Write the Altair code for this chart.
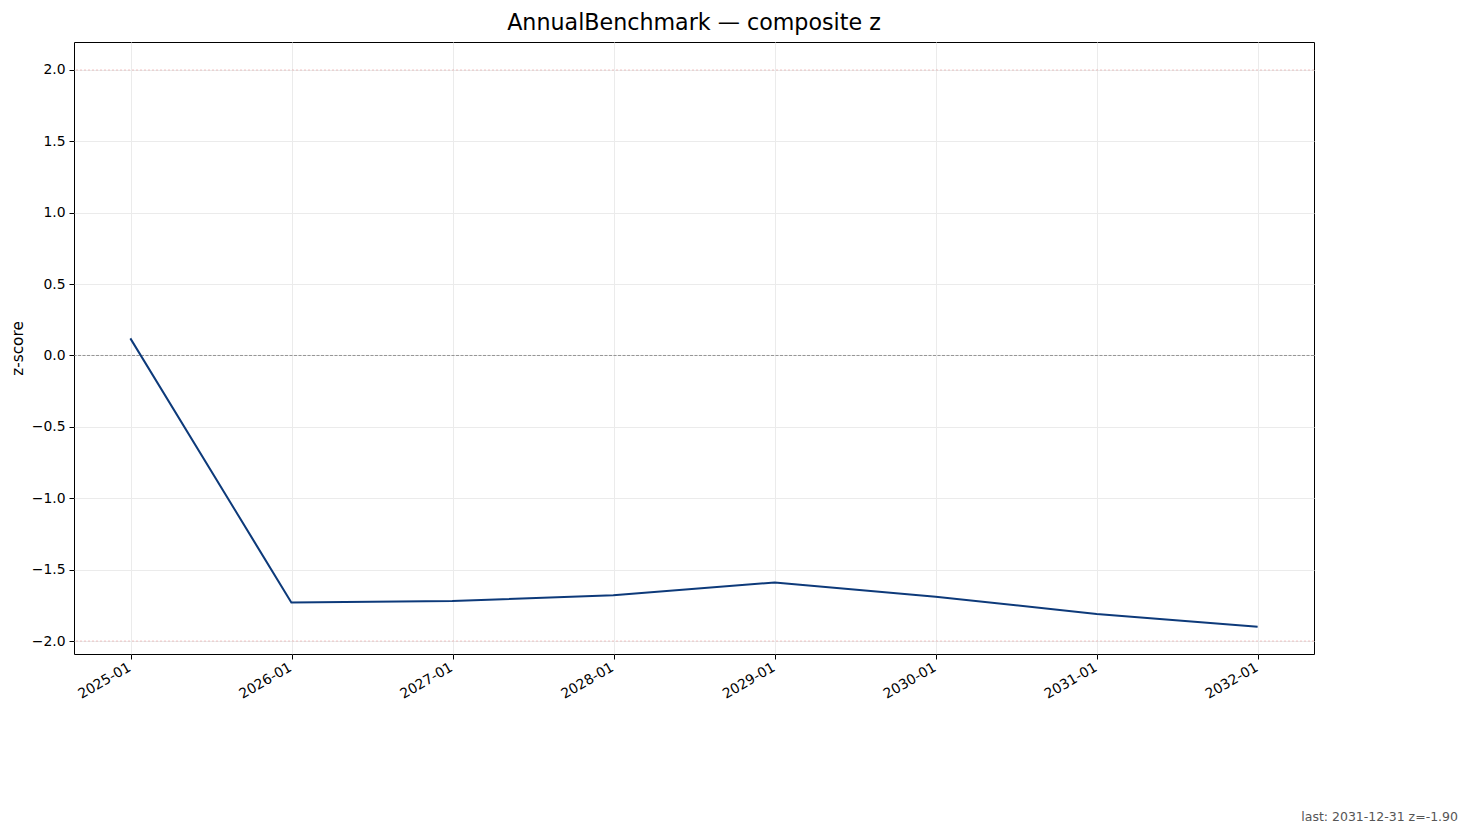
import altair as alt
import pandas as pd

dates = ["2024-12-31", "2025-12-31", "2026-12-31", "2027-12-31",
         "2028-12-31", "2029-12-31", "2030-12-31", "2031-12-31"]
zvals = [0.12, -1.73, -1.72, -1.68, -1.59, -1.69, -1.81, -1.90]
tick_dates = ["2025-01-01", "2026-01-01", "2027-01-01", "2028-01-01",
              "2029-01-01", "2030-01-01", "2031-01-01", "2032-01-01"]
y_ticks = [-2.0, -1.5, -1.0, -0.5, 0.0, 0.5, 1.0, 1.5, 2.0]
ref_levels = [2.0, -2.0]
footer = "last: 2031-12-31 z=-1.90"
title = "AnnualBenchmark \u2014 composite z"

df = pd.DataFrame({"date": pd.to_datetime(dates), "z": zvals})
start = pd.Timestamp(dates[0])
end = pd.Timestamp(dates[-1])
pad = (end - start) * 0.05
xdom = [(start - pad).isoformat(), (end + pad).isoformat()]
ydom = [-2.091, 2.196]

FONT = "DejaVu Sans"
W, H = 1240, 612

xscale = alt.Scale(domain=xdom, nice=False)
yscale = alt.Scale(domain=ydom, nice=False, zero=False)

tick_vals = [alt.DateTime(year=int(d[:4]), month=1, date=1) for d in tick_dates]

line = alt.Chart(df).mark_line(color="#0d3a7a", strokeWidth=2, clip=True).encode(
    x=alt.X("date:T", scale=xscale,
            axis=alt.Axis(values=tick_vals, format="%Y-%m", title=None,
                          labelAngle=330, labelAlign="right", labelBaseline="top",
                          labelFontSize=13.9, labelFont=FONT, labelColor="black",
                          tickColor="black", tickSize=5, tickWidth=1,
                          labelPadding=1, labelOffset=-5, domain=False,
                          grid=True, gridColor="#ebebeb", gridWidth=1)),
    y=alt.Y("z:Q", scale=yscale,
            axis=alt.Axis(values=y_ticks,
                          labelExpr="replace(format(datum.value, '.1f'), '-', '\u2212')",
                          title="z-score",
                          titleFont=FONT, titleFontSize=15.3, titleFontWeight="normal",
                          titleColor="black", titlePadding=6,
                          labelFontSize=13.9, labelFont=FONT, labelColor="black",
                          tickColor="black", tickSize=5, tickWidth=1,
                          labelPadding=4, domain=False,
                          grid=True, gridColor="#ebebeb", gridWidth=1)),
)

ref_df = pd.DataFrame({"lvl": ref_levels})
refs = alt.Chart(ref_df).mark_rule(color="#d62728", opacity=0.25, strokeWidth=1,
                                   strokeDash=[2, 2]).encode(
    y=alt.Y("lvl:Q", scale=yscale)
)

zero_df = pd.DataFrame({"lvl": [0.0]})
zero = alt.Chart(zero_df).mark_rule(color="gray", strokeWidth=0.8,
                                    strokeDash=[3, 1.5]).encode(
    y=alt.Y("lvl:Q", scale=yscale)
)

foot_df = pd.DataFrame({"t": [footer]})
foot = alt.Chart(foot_df).mark_text(align="right", baseline="alphabetic",
                                    font=FONT, fontSize=12.5, color="#555555",
                                    clip=False).encode(
    text="t:N",
    x=alt.value(W + 144),
    y=alt.value(H + 167),
)

chart = alt.layer(refs, zero, line, foot).properties(
    width=W, height=H,
    title=alt.TitleParams(text=title, font=FONT, fontSize=22.2, fontWeight="normal",
                          color="black", anchor="middle", offset=8),
    autosize=alt.AutoSizeParams(type="none"),
    padding={"left": 66, "top": 34, "right": 145, "bottom": 170},
).configure(
    background="white"
).configure_view(
    stroke="black", strokeWidth=1
)

chart.save("out.html", embed_options={"renderer": "svg", "actions": False})
